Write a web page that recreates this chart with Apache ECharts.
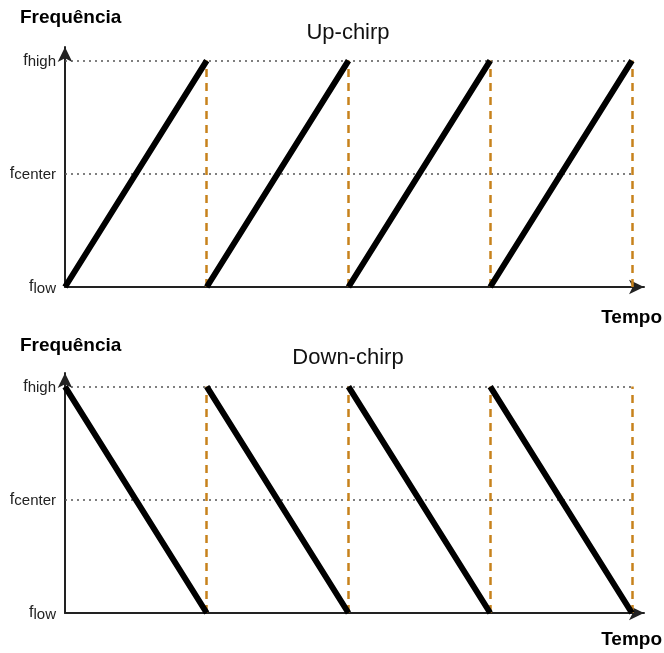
<!DOCTYPE html>
<html>
<head>
<meta charset="utf-8">
<script src="https://cdn.jsdelivr.net/npm/echarts@6/dist/echarts.min.js"></script>
<style>html,body{margin:0;padding:0;background:#fff}#c{width:664px;height:653px}</style>
</head>
<body>
<div id="c"></div>
<script>
const timeTicks = [0, 1, 2, 3, 4];
const freqLevels = [0, 1, 2];
const freqLabels = ['low', 'center', 'high'];
const chartTitles = ['Up-chirp', 'Down-chirp'];
// per period: start and end frequency level
const upChirpStart = [0, 0, 0, 0];
const upChirpEnd = [2, 2, 2, 2];
const downChirpStart = [2, 2, 2, 2];
const downChirpEnd = [0, 0, 0, 0];
const resetTimes = [1, 2, 3, 4];

const FONT = 'Liberation Sans, Arial, sans-serif';
const chart = echarts.init(document.getElementById('c'));

function segs(starts, ends) {
  const d = [];
  for (let i = 0; i < starts.length; i++) {
    if (i > 0) d.push([timeTicks[i], '-']);
    d.push([timeTicks[i], starts[i]]);
    d.push([timeTicks[i + 1], ends[i]]);
  }
  return d;
}

const grids = [
  { left: 65, top: 47, width: 579, height: 240 },
  { left: 65, top: 373, width: 579, height: 240 }
];

const axisLineStyle = { show: true, symbol: ['none', 'arrow'], symbolSize: [11, 15], lineStyle: { color: '#222', width: 2 } };

const xAxes = grids.map((g, i) => ({
  type: 'value', gridIndex: i, min: 0, max: 4.085,
  axisLine: axisLineStyle,
  axisTick: { show: false }, axisLabel: { show: false }, splitLine: { show: false }
}));
const yAxes = grids.map((g, i) => ({
  type: 'value', gridIndex: i, min: 0, max: 2.12, interval: 1,
  axisLine: axisLineStyle,
  axisTick: { show: false }, splitLine: { show: false },
  axisLabel: {
    margin: 9,
    formatter: v => {
      const k = freqLevels.indexOf(v);
      return k < 0 ? '' : '{f|f}{s|' + freqLabels[k] + '}';
    },
    rich: {
      f: { fontSize: 16, fontFamily: FONT, color: '#222' },
      s: { fontSize: 15, fontFamily: FONT, color: '#222', padding: [3, 0, 0, 0] }
    }
  }
}));

function markLines() {
  const data = [];
  [1, 2].forEach(lv => data.push([{ coord: [0, lv], lineStyle: { type: [2, 4], color: '#555', width: 1.5 } }, { coord: [timeTicks[4], lv] }]));
  resetTimes.forEach(t => data.push([{ coord: [t, 0], lineStyle: { type: [8, 6], color: '#c7821c', width: 2.5 } }, { coord: [t, 2] }]));
  return { silent: true, symbol: 'none', label: { show: false }, animation: false, data };
}

const series = [
  { type: 'line', xAxisIndex: 0, yAxisIndex: 0, data: segs(upChirpStart, upChirpEnd), showSymbol: false, z: 5,
    lineStyle: { color: '#000', width: 6 }, markLine: markLines(), animation: false },
  { type: 'line', xAxisIndex: 1, yAxisIndex: 1, data: segs(downChirpStart, downChirpEnd), showSymbol: false, z: 5,
    lineStyle: { color: '#000', width: 6 }, markLine: markLines(), animation: false }
];

const bold = 'bold 19px ' + FONT;
chart.setOption({
  animation: false,
  graphic: [
    { type: 'text', x: 348, y: 33, style: { text: chartTitles[0], font: '22px ' + FONT, fill: '#111', align: 'center', verticalAlign: 'middle' } },
    { type: 'text', x: 348, y: 358, style: { text: chartTitles[1], font: '22px ' + FONT, fill: '#111', align: 'center', verticalAlign: 'middle' } },
    { type: 'text', x: 20, y: 18, style: { text: 'Frequência', font: bold, fill: '#000', verticalAlign: 'middle' } },
    { type: 'text', x: 662, y: 318, style: { text: 'Tempo', font: bold, fill: '#000', align: 'right', verticalAlign: 'middle' } },
    { type: 'text', x: 20, y: 346, style: { text: 'Frequência', font: bold, fill: '#000', verticalAlign: 'middle' } },
    { type: 'text', x: 662, y: 640, style: { text: 'Tempo', font: bold, fill: '#000', align: 'right', verticalAlign: 'middle' } }
  ],
  grid: grids, xAxis: xAxes, yAxis: yAxes, series
});
</script>
</body>
</html>
